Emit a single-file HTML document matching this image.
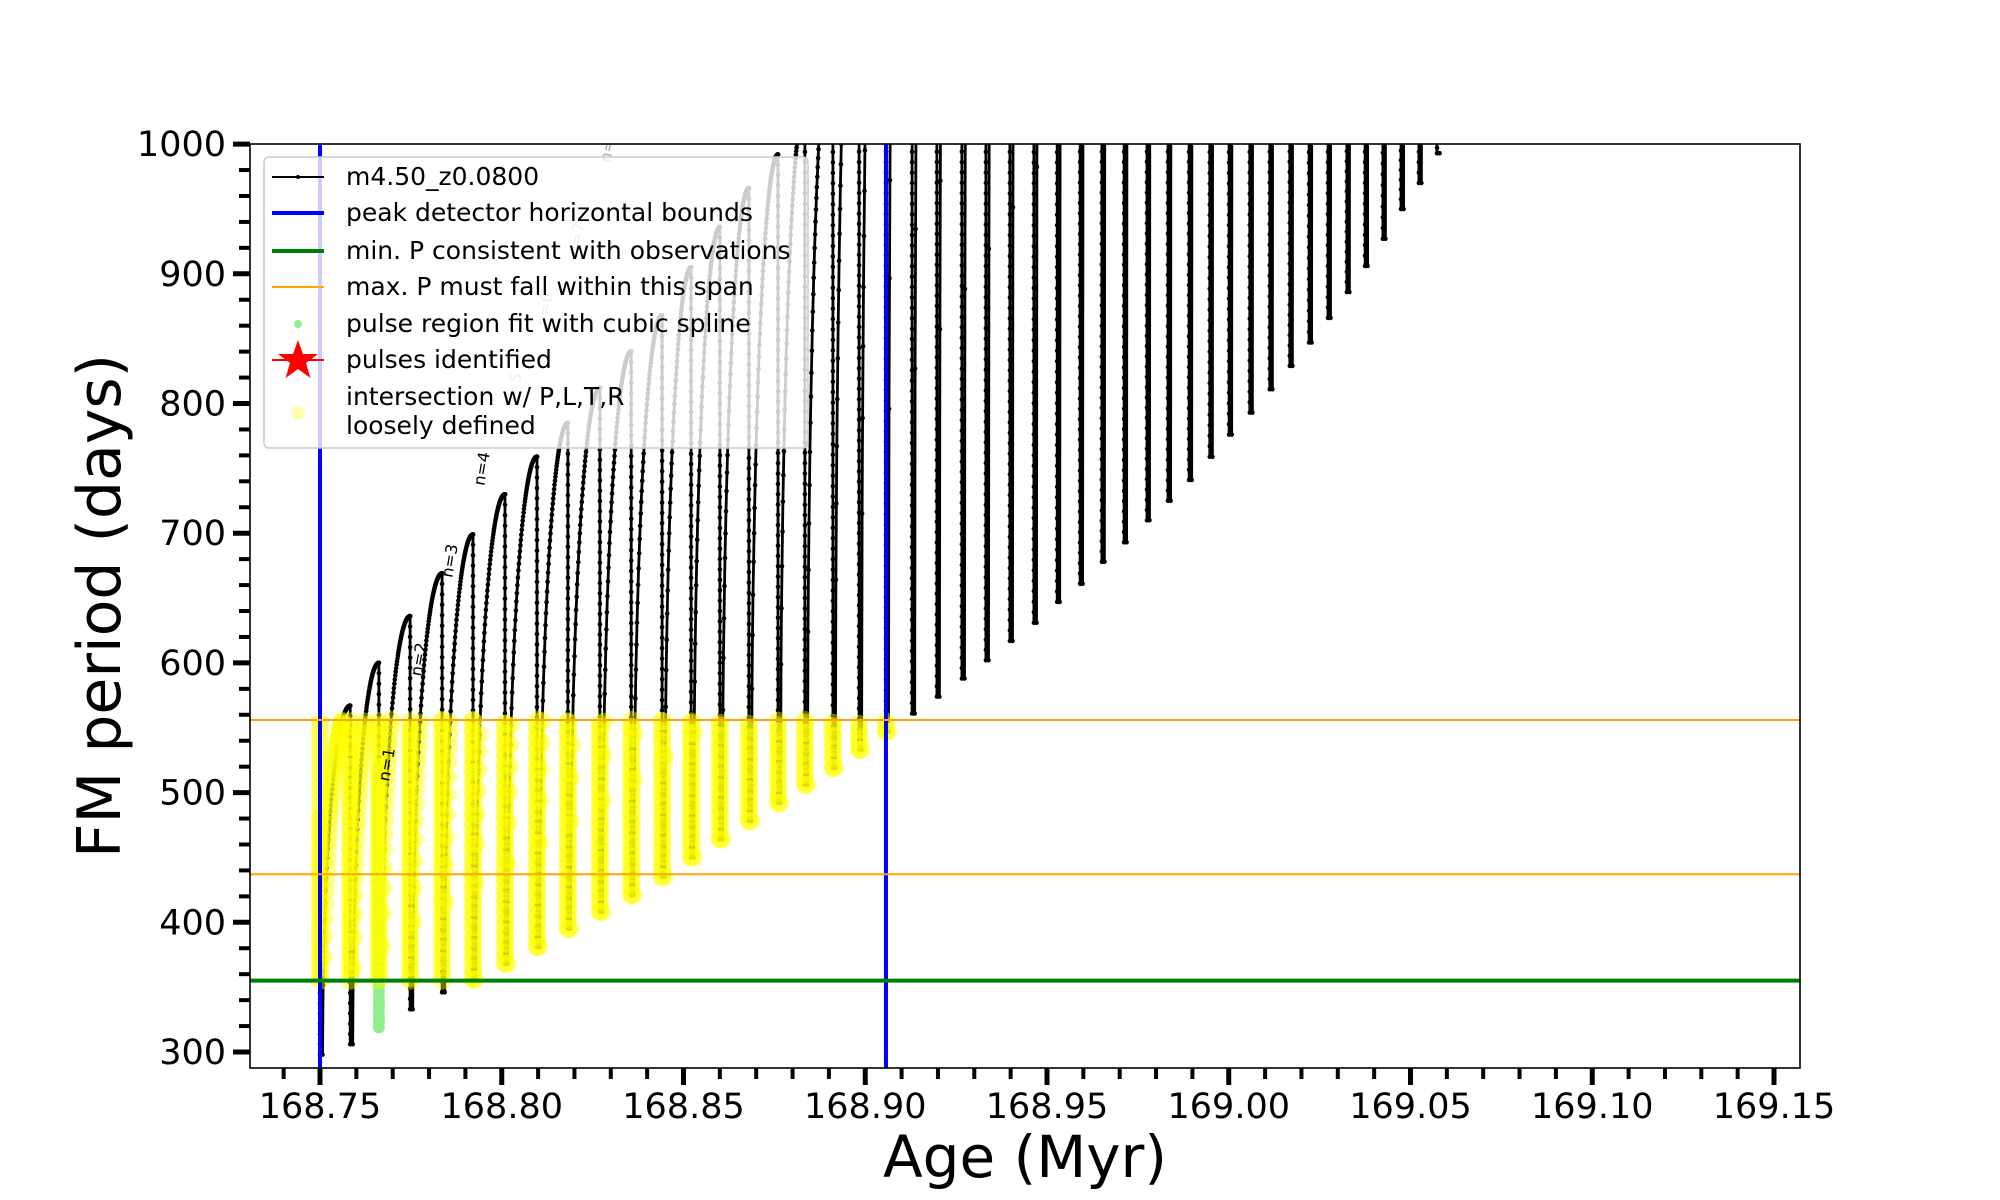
<!DOCTYPE html>
<html><head><meta charset="utf-8"><style>
html,body{margin:0;padding:0;background:#fff;}
svg{display:block;font-family:"DejaVu Sans","Liberation Sans",sans-serif;}
</style></head><body>
<svg id="chart" width="2000" height="1200" viewBox="0 0 2000 1200">
<defs><clipPath id="plotclip"><rect x="250" y="144" width="1550" height="924"/></clipPath></defs>
<rect x="0" y="0" width="2000" height="1200" fill="#fff"/>
<g id="data" clip-path="url(#plotclip)"></g>
<g id="axes"></g>
<rect x="250" y="144" width="1550" height="924" fill="none" stroke="#000" stroke-width="1.6"/>
<g>
<rect x="264" y="157" width="544" height="291" rx="5" fill="#fff" fill-opacity="0.8" stroke="#ccc" stroke-width="1.5"/>
<g font-size="25" fill="#000">
<g><line x1="272" y1="177" x2="324" y2="177" stroke="#000" stroke-width="2"/><circle cx="298" cy="177" r="2" fill="#000"/><text x="346" y="185">m4.50_z0.0800</text></g>
<g><line x1="272" y1="213" x2="324" y2="213" stroke="#0000ff" stroke-width="4"/><text x="346" y="221">peak detector horizontal bounds</text></g>
<g><line x1="272" y1="251" x2="324" y2="251" stroke="#008000" stroke-width="4"/><text x="346" y="259">min. P consistent with observations</text></g>
<g><line x1="272" y1="287" x2="324" y2="287" stroke="#ffa500" stroke-width="2"/><text x="346" y="295">max. P must fall within this span</text></g>
<g><circle cx="298" cy="324" r="4" fill="#90ee90"/><text x="346" y="332">pulse region fit with cubic spline</text></g>
<g><line x1="272" y1="360" x2="324" y2="360" stroke="#ff0000" stroke-width="2"/><polygon points="298,340 302.9,354 318,354 306,363 310.4,378 298,369 285.6,378 290,363 278,354 293.1,354" fill="#ff0000"/><text x="346" y="368">pulses identified</text></g>
<g><circle cx="298" cy="413" r="7" fill="#ffff00" fill-opacity="0.3"/><text x="346" y="405">intersection w/ P,L,T,R</text><text x="346" y="434">loosely defined</text></g>
</g></g>
<text x="1025" y="1177" font-size="58" text-anchor="middle">Age (Myr)</text>
<text transform="translate(120,606) rotate(-90)" font-size="60" text-anchor="middle">FM period (days)</text>
</svg>
<script>
const pulseAges = [168.7500,168.7583,168.7662,168.7748,168.7836,168.7921,168.8009,168.8097,168.8182,168.8270,168.8356,168.8441,168.8521,168.8600,168.8680,168.8760,168.8834,168.8911,168.8983,168.9057,168.9129,168.9197,168.9266,168.9332,168.9398,168.9464,168.9528,168.9591,168.9651,168.9712,168.9775,168.9833,168.9891,168.9948,169.0001,169.0058,169.0113,169.0168,169.0221,169.0273,169.0325,169.0375,169.0424,169.0474,169.0523,169.0573];
const minPeriods = [298,306,319,333,346,356,368,381,395,408,421,435,450,464,478,492,506,519,533,547,561,574,588,602,617,631,647,661,678,693,710,725,741,759,776,793,811,829,847,866,886,906,927,950,970,993];
const peakPeriods = [480,567,600,636,669,699,730,759,785,812,840,868,905,936,966,992,1030,1100,1250,1450,1800,1900,2000,2100,2200,2300,2400,2500,2600,2700,2800,2900,3000,3100,3200,3300,3400,3500,3600,3700,3800,3900,4000,4100,4200,4300];
const boundAges = [168.75, 168.9057];
const minPLine = [355];
const maxPSpan = [437, 556];
const xTicks = [168.75,168.80,168.85,168.90,168.95,169.00,169.05,169.10,169.15];
const xTickLabels = ["168.75","168.80","168.85","168.90","168.95","169.00","169.05","169.10","169.15"];
const yTicks = [300,400,500,600,700,800,900,1000];
const yTickLabels = ["300","400","500","600","700","800","900","1000"];
const nLabels = ["n=1","n=2","n=3","n=4","n=5","n=6","n=7","n=8"];
const nLabelPulse = [3,4,5,6,7,8,9,10];
const nLabelPeriod = [521,602,678,749,810,872,926,998];
const greenPulse = [2];

const X = a => 320 + (a - 168.75) * 3635;
const Y = p => 1052 - (p - 300) * 1.297;
const NS = "http://www.w3.org/2000/svg";
const dataG = document.getElementById('data');
const axesG = document.getElementById('axes');
function mk(tag, attrs, parent){
  const e = document.createElementNS(NS, tag);
  for (const k in attrs) e.setAttribute(k, attrs[k]);
  parent.appendChild(e); return e;
}
const RISE = 0.0007;
const dropPts = [], risePts = [];
for (let k = 0; k < pulseAges.length; k++) {
  const drop = [];
  const top = Math.min(peakPeriods[k], 1010);
  const n = Math.max(4, Math.round((top - minPeriods[k]) / 8));
  for (let i = 0; i <= n; i++) drop.push([pulseAges[k], top - (top - minPeriods[k]) * i / n]);
  dropPts.push(drop);
  const rise = [];
  if (k + 1 < pulseAges.length) {
    const t0 = pulseAges[k] + RISE, t1 = pulseAges[k+1];
    const p0 = minPeriods[k], p1 = peakPeriods[k+1];
    const m = 80;
    for (let i = 0; i <= m; i++) {
      const u = 1 - Math.pow(1 - i/m, 1.6);
      const p = p0 + (p1 - p0) * Math.sqrt(Math.max(0, 1 - (1-u)*(1-u)));
      rise.push([t0 + (t1 - t0) * u, p]);
      if (p > 1010) break;
    }
  } else {
    rise.push([pulseAges[k] + RISE, minPeriods[k]]);
  }
  risePts.push(rise);
}
let d = "";
for (let k = 0; k < pulseAges.length; k++) {
  const all = dropPts[k].concat([[pulseAges[k]+RISE*0.5, minPeriods[k]]]).concat(risePts[k]);
  all.forEach((pt, i) => { d += (i===0 ? "M" : "L") + X(pt[0]).toFixed(1) + "," + Y(pt[1]).toFixed(1); });
}
const line = mk('path', {d: d, fill: 'none', stroke: '#000', 'stroke-width': 2.8}, dataG);


const dotsG = mk('g', {fill: '#000'}, dataG);


for (let k = 0; k < pulseAges.length; k++) {
  dropPts[k].concat(risePts[k]).forEach(pt => {
    if (pt[1] > 1010) return;
    mk('circle', {cx: X(pt[0]).toFixed(1), cy: Y(pt[1]).toFixed(1), r: 2.3}, dotsG);
  });
}
const gG = mk('g', {fill: '#90ee90'}, dataG);


greenPulse.forEach(k => {
  for (let p = minPeriods[k]; p <= 520; p += 4) mk('circle', {cx: X(pulseAges[k]), cy: Y(p).toFixed(1), r: 6}, gG);
});
const yG = mk('g', {fill: '#ffff00', 'fill-opacity': 0.42}, dataG);


for (let k = 0; k < pulseAges.length; k++) {
  if (pulseAges[k] > boundAges[1] + 0.0001) break;
  dropPts[k].concat(risePts[k]).forEach(pt => {
    if (pt[1] >= minPLine[0] && pt[1] <= maxPSpan[1]) mk('circle', {cx: X(pt[0]).toFixed(1), cy: Y(pt[1]).toFixed(1), r: 9}, yG);
  });
  for (let p = Math.max(minPLine[0], minPeriods[k]); p <= maxPSpan[1]; p += 5) {
    mk('circle', {cx: X(pulseAges[k]).toFixed(1), cy: Y(p).toFixed(1), r: 9}, yG);
  }
}
boundAges.forEach((a, i) => {
  const l = mk('line', {x1: X(a), x2: X(a), y1: 144, y2: 1068, stroke: '#0000ff', 'stroke-width': 4}, dataG);
  
  
});
minPLine.forEach(p => {
  const l = mk('line', {x1: 250, x2: 1800, y1: Y(p), y2: Y(p), stroke: '#008000', 'stroke-width': 4}, dataG);
  
  
});
maxPSpan.forEach(p => {
  const l = mk('line', {x1: 250, x2: 1800, y1: Y(p), y2: Y(p), stroke: '#ffa500', 'stroke-width': 2}, dataG);
  
  
});
nLabels.forEach((t, i) => {
  const k = nLabelPulse[i];
  const x = X(pulseAges[k]) - 18, y = Y(nLabelPeriod[i]);
  const e = mk('text', {transform: `translate(${x.toFixed(1)},${y.toFixed(1)}) rotate(-80)`, 'font-size': 16, fill: i < 4 ? '#000' : '#aaa', 'text-anchor': 'middle'}, dataG);
  e.textContent = t;
  
  
});
for (let i = 0; i <= 41; i++) {
  const a = 168.74 + i * 0.01;
  const x = X(a);
  if (x < 250 || x > 1800) continue;
  const major = xTicks.some(t => Math.abs(t - a) < 1e-6);
  const tk = mk('line', {x1: x, x2: x, y1: 1068, y2: major ? 1085 : 1079, stroke: '#000', 'stroke-width': major ? 5 : 4}, axesG);
  
  
}
xTicks.forEach((a, i) => {
  const t = mk('text', {x: X(a), y: 1118, 'font-size': 35, 'text-anchor': 'middle'}, axesG);
  t.textContent = xTickLabels[i];
  
  
});
for (let p = 300; p <= 1000; p += 20) {
  const major = p % 100 === 0;
  const tk = mk('line', {x1: major ? 233 : 239, x2: 250, y1: Y(p), y2: Y(p), stroke: '#000', 'stroke-width': major ? 5 : 4}, axesG);
  
  
}
yTicks.forEach((p, i) => {
  const t = mk('text', {x: 226, y: Y(p) + 12, 'font-size': 35, 'text-anchor': 'end'}, axesG);
  t.textContent = yTickLabels[i];
  
  
});
</script>
</body></html>
